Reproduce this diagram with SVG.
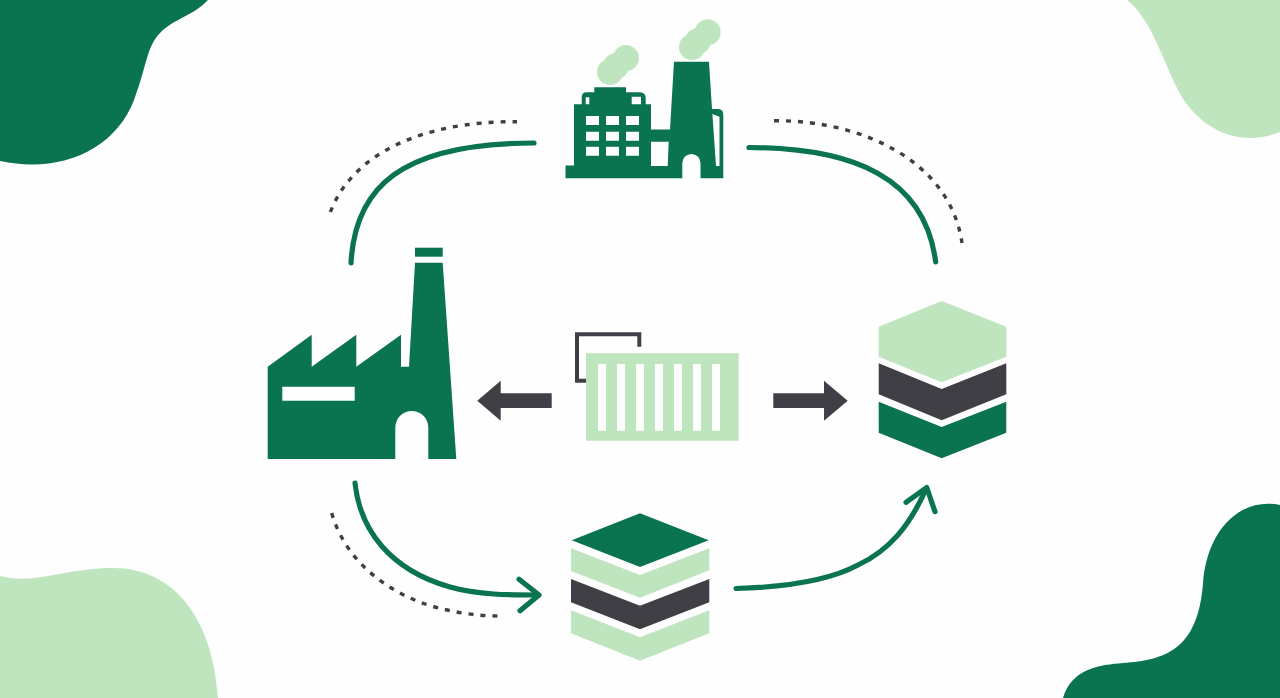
<svg xmlns="http://www.w3.org/2000/svg" width="1280" height="698" viewBox="0 0 1280 698">
<style>
.g{fill:#0a7350}.l{fill:#bfe5bf}.d{fill:#3f3f45}
.c{fill:none;stroke:#0a7350;stroke-width:5.2;stroke-linecap:round;stroke-linejoin:round}
.o{fill:none;stroke:#3f3f45;stroke-width:3.4;stroke-dasharray:5 7}
</style>
<rect width="1280" height="698" fill="#fefefe"/>
<g id="corners">
<path class="g" d="M0,161 C60,174 115,150 134,100 C147,66 146,48 160,33 C173,19 193,16 208,0 H0Z"/>
<path class="l" d="M1127,0 C1150,18 1161,55 1177,88 C1195,125 1235,150 1280,132 V0Z"/>
<path class="l" d="M0,576 C35,585 65,568 113,568 C175,568 213,620 218,698 H0Z"/>
<path class="g" d="M1063,698 C1072,668 1100,665 1123,663 C1165,660 1198,650 1203,583 C1207,530 1240,497 1280,505 V698Z"/>
</g>
<g id="connectors">
<path class="c" d="M351,263 C355,188 400,143 534,143"/>
<path class="c" d="M749,147.5 C855,148 925,178 935.7,262"/>
<path class="c" d="M355,483 C360,530 390,570 450,587 C478,595 510,595 538,595"/>
<path class="c" d="M519,579.3 L539,595 L520,610.7"/>
<path class="c" d="M736,588.5 C790,587 830,580 858,565 C890,550 910,525 926,489"/>
<path class="c" d="M906,502.3 L926.7,487.5 L935,511.7"/>
<path class="o" d="M330.4,212 C352,155 420,121 517,121.7"/>
<path class="o" d="M774,120.7 C860,120 950,160 962,243"/>
<path class="o" d="M331.7,513 C345,560 385,590 425,604 C450,612 475,616 498,616"/>
<path class="d" d="M477.3,400.7 L500.7,380.7 V393.3 H551.7 V408 H500.7 V420.7Z"/>
<path class="d" d="M773.3,393.3 H824 V380.7 L847.7,400.7 L824,420.7 V408 H773.3Z"/>
</g>
<g id="top-factory">
<g class="l"><circle cx="626" cy="58" r="13"/><circle cx="616" cy="66" r="13"/><circle cx="610" cy="72" r="13"/><circle cx="707.7" cy="32.3" r="13"/><circle cx="698" cy="41" r="13"/><circle cx="692" cy="47" r="13"/></g>
<path class="g" fill-rule="evenodd" d="M565.5,178.3 V165.5 H574 V104.3 H581.7 V97.3 Q581.7,92.3 586.7,92.3 H594.3 V87.3 H626 V92.3 H640 Q645.7,92.3 645.7,98.3 V104.3 H651 V129.5 H670 L674,61.7 H709 L712,109 H718.3 Q723.3,109 723.3,115 V178.3 H700.5 V163 A9.1,9.1 0 0 0 682.3,163 V178.3Z
M585.7,97.3 H589.3 V104.3 H585.7Z M631.7,96.7 H641 V104.3 H631.7Z
M651,141.7 H668.7 L667.7,166 H651Z M712.4,114 L719.5,116.7 V166 H716Z
M586,116 h13 v9 h-13Z M606,116 h13 v9 h-13Z M626,116 h13 v9 h-13Z
M586,131.7 h13 v9 h-13Z M606,131.7 h13 v9 h-13Z M626,131.7 h13 v9 h-13Z
M586,146.7 h13 v9 h-13Z M606,146.7 h13 v9 h-13Z M626,146.7 h13 v9 h-13Z"/>
</g>
<g id="left-factory">
<rect class="g" x="415" y="247.7" width="27.7" height="9"/>
<path class="g" fill-rule="evenodd" d="M267.7,366.7 L311.7,334.7 V366.7 L356.3,334.7 V366.7 L401,334.7 V366.7 H409 L415,262.7 H442.7 L456.3,459 H428.3 V427.5 A16.5,16.5 0 0 0 395.3,427.5 V459 H267.7Z M282.3,386.7 H354.7 V400.7 H282.3Z"/>
</g>
<g id="container">
<path fill="none" stroke="#3f3f45" stroke-width="4" d="M586,380.7 H577 V334.3 H639.3 V346.7"/>
<path class="l" fill-rule="evenodd" d="M586,353.3 H738.7 V440.7 H586Z M598,364 h8 v66.7 h-8Z M617,364 h8 v66.7 h-8Z M636,364 h8 v66.7 h-8Z M655,364 h8 v66.7 h-8Z M674,364 h8 v66.7 h-8Z M693,364 h8 v66.7 h-8Z M712,364 h8 v66.7 h-8Z"/>
</g>
<g id="bottom-stack">
<path class="g" d="M640,513.3 L708.7,540.3 L640,567 L571.7,540.3Z"/>
<path class="l" d="M571,548.3 L640,575 L709.3,548.3 V570.3 L640,597.7 L571,571Z"/>
<path class="d" d="M571,579 L640,605.7 L709.3,579 V602.3 L640,629.3 L571,602.3Z"/>
<path class="l" d="M571,610.3 L640,637.3 L709.3,610.3 V633.3 L640,660.7 L571,633.3Z"/>
</g>
<g id="right-stack">
<path class="l" d="M941.7,301 L1006.3,326.7 V356.7 L941.7,382.3 L878.7,356.7 V326.7Z"/>
<path class="d" d="M878.7,363.3 L941.7,389 L1006.3,363.3 V394.3 L941.7,420.3 L878.7,394.3Z"/>
<path class="g" d="M878.7,401.7 L941.7,427 L1006.3,401.7 V432.7 L941.7,458.3 L878.7,432.7Z"/>
</g>
</svg>
